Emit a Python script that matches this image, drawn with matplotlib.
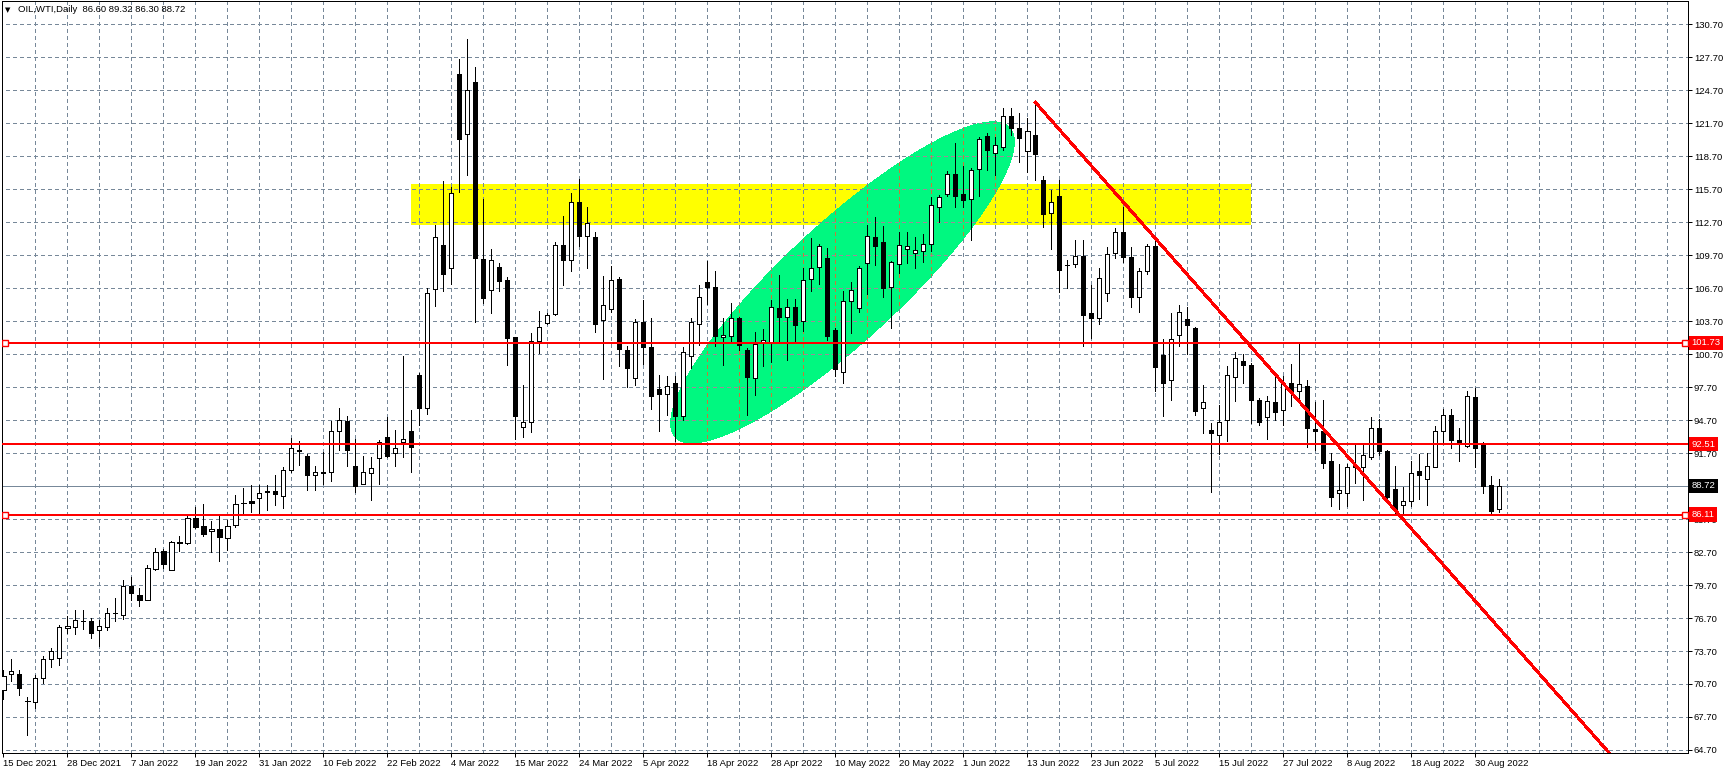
import numpy as np
import matplotlib
matplotlib.use('Agg')
import matplotlib.pyplot as plt
import matplotlib.transforms as mtransforms
from matplotlib.patches import Polygon, Rectangle

plt.rcParams['font.family'] = ['Liberation Sans', 'DejaVu Sans']
plt.rcParams['font.size'] = 6.8

# OIL,WTI daily candles, 15 Dec 2021 .. 2 Sep 2022 (188 bars)
opens = [70.18, 71.64, 71.61, 69.12, 69.06, 71.25, 72.97, 73.06, 75.79, 75.88,
         76.40, 76.46, 75.64, 75.88, 77.12, 76.97, 79.64, 78.82, 78.37, 81.15,
         82.79, 81.09, 83.52, 83.52, 85.82, 85.03, 84.58, 84.79, 83.97, 85.12,
         87.12, 87.33, 87.61, 88.27, 88.27, 87.76, 90.12, 91.95, 91.46, 89.67,
         89.88, 89.94, 93.67, 94.64, 90.55, 88.91, 89.88, 91.25, 93.15, 91.70,
         92.70, 93.70, 98.82, 95.79, 106.61, 110.64, 108.52, 126.15, 120.70, 125.43,
         109.34, 106.52, 108.61, 107.43, 102.25, 94.06, 94.52, 101.91, 103.52, 104.34,
         110.64, 109.25, 114.52, 111.49, 111.37, 103.79, 104.85, 107.55, 101.06, 98.52,
         103.61, 101.31, 97.52, 97.06, 98.06, 95.12, 100.49, 103.43, 107.25, 106.79,
         102.30, 102.31, 103.97, 101.09, 98.52, 101.79, 101.70, 104.88, 104.12, 105.03,
         103.67, 107.52, 108.61, 109.43, 102.91, 99.12, 105.49, 104.88, 109.03, 111.34,
         110.88, 106.85, 108.94, 110.25, 109.88, 110.12, 110.76, 114.06, 115.25, 117.06,
         115.25, 114.79, 117.52, 120.52, 118.97, 119.58, 122.34, 121.25, 119.21, 120.64,
         116.55, 113.52, 115.09, 108.80, 108.88, 109.64, 104.46, 103.97, 106.25, 109.88,
         111.79, 109.52, 105.94, 108.28, 110.55, 100.64, 98.31, 102.43, 103.91, 103.09,
         95.79, 93.82, 93.31, 94.73, 98.61, 100.09, 99.73, 96.55, 94.97, 96.37,
         95.64, 98.06, 97.34, 97.79, 93.88, 93.70, 90.97, 88.03, 88.03, 90.55,
         90.40, 91.37, 93.94, 91.88, 88.40, 87.00, 87.30, 90.06, 89.30, 90.46,
         93.67, 95.21, 92.88, 92.34, 96.76, 92.58, 88.79, 86.60]
highs = [72.00, 72.97, 72.00, 69.49, 71.55, 73.21, 73.97, 76.09, 76.91, 77.40,
         77.40, 76.70, 76.49, 77.61, 78.52, 80.18, 80.43, 79.43, 81.55, 83.06,
         82.97, 83.73, 84.12, 85.94, 86.76, 87.09, 85.52, 86.00, 85.64, 87.85,
         88.52, 88.79, 88.79, 88.82, 89.73, 90.43, 93.06, 92.76, 91.64, 90.55,
         91.76, 94.64, 95.79, 95.09, 92.97, 91.40, 91.34, 92.85, 94.94, 93.82,
         100.50, 95.64, 98.97, 106.70, 112.46, 116.46, 115.94, 127.55, 129.37, 126.79,
         114.82, 110.28, 108.97, 107.76, 102.30, 97.91, 102.61, 104.64, 104.43, 110.94,
         113.28, 115.34, 116.64, 114.09, 111.79, 107.82, 108.73, 107.70, 101.40, 103.88,
         105.58, 103.97, 98.82, 98.73, 98.73, 101.31, 103.97, 107.00, 109.21, 108.28,
         103.97, 105.34, 104.10, 101.25, 102.70, 103.00, 105.64, 107.91, 105.70, 105.70,
         108.52, 111.25, 110.73, 110.34, 103.06, 106.40, 107.25, 108.73, 112.46, 113.15,
         112.37, 109.20, 111.85, 111.85, 111.34, 111.61, 114.97, 115.18, 117.37, 119.88,
         117.82, 117.67, 120.49, 120.79, 120.49, 123.06, 123.06, 122.67, 122.15, 123.61,
         116.91, 115.64, 116.55, 109.28, 111.09, 111.09, 107.00, 108.52, 110.49, 112.15,
         114.12, 110.43, 108.52, 110.73, 111.40, 102.06, 104.43, 105.18, 104.97, 103.21,
         97.91, 94.43, 96.03, 99.58, 100.91, 100.73, 99.88, 96.70, 96.91, 98.82,
         98.67, 99.82, 101.67, 98.34, 96.37, 96.52, 91.73, 90.70, 90.70, 92.43,
         92.43, 94.97, 94.76, 91.97, 90.52, 88.64, 91.00, 91.61, 91.67, 94.15,
         95.70, 95.67, 94.00, 97.37, 97.64, 92.73, 89.61, 89.32]
lows = [69.34, 70.94, 69.70, 66.06, 68.52, 70.79, 72.24, 72.46, 75.34, 75.27,
        75.70, 74.88, 74.18, 75.58, 76.40, 76.64, 78.37, 77.76, 78.30, 81.03,
        81.25, 81.03, 82.82, 83.46, 84.91, 84.12, 82.67, 81.85, 82.85, 84.97,
        86.24, 86.30, 86.18, 86.49, 87.00, 86.67, 89.94, 90.64, 88.37, 88.30,
        88.91, 89.12, 92.00, 90.55, 88.12, 88.85, 87.40, 88.91, 91.34, 90.55,
        91.31, 89.94, 94.27, 95.24, 105.12, 106.40, 107.06, 115.49, 117.00, 103.58,
        105.34, 104.40, 106.40, 99.67, 93.00, 93.20, 93.61, 100.82, 103.43, 104.22,
        107.00, 108.28, 110.58, 108.58, 102.76, 98.46, 104.52, 99.58, 97.67, 97.91,
        99.79, 95.70, 93.67, 95.18, 92.76, 94.73, 99.40, 101.55, 105.28, 101.40,
        99.73, 101.94, 101.09, 95.18, 96.94, 99.64, 100.03, 101.70, 100.18, 101.70,
        102.85, 106.40, 107.09, 102.00, 98.73, 98.12, 102.61, 104.49, 106.19, 108.82,
        105.94, 103.12, 108.06, 109.03, 108.52, 109.12, 110.12, 112.76, 115.09, 114.06,
        114.06, 111.09, 115.09, 117.46, 117.00, 119.28, 120.64, 118.21, 117.31, 116.55,
        112.30, 110.28, 106.31, 106.70, 108.67, 101.40, 102.15, 103.46, 105.49, 109.49,
        109.12, 105.03, 104.49, 107.97, 97.31, 95.03, 96.49, 101.46, 100.73, 95.18,
        93.52, 88.20, 91.61, 92.76, 96.40, 98.06, 94.43, 94.28, 92.97, 94.67,
        94.28, 95.94, 96.52, 92.28, 92.00, 90.31, 86.90, 86.60, 86.90, 88.94,
        87.40, 91.12, 91.52, 87.30, 86.10, 86.20, 86.90, 87.50, 87.00, 90.40,
        92.58, 92.18, 91.00, 92.22, 90.46, 88.09, 86.10, 86.30]
closes = [71.46, 71.88, 70.34, 69.18, 71.25, 72.97, 73.67, 75.88, 75.97, 76.55,
          76.46, 75.34, 76.00, 77.15, 77.20, 79.58, 78.97, 78.31, 81.25, 82.70,
          81.58, 83.61, 83.58, 85.82, 84.97, 84.37, 84.82, 84.03, 85.03, 87.09,
          87.18, 87.15, 88.06, 88.12, 87.97, 90.12, 92.15, 91.88, 89.67, 89.94,
          89.94, 93.70, 94.67, 92.00, 88.73, 89.94, 90.34, 92.73, 91.46, 92.15,
          92.97, 92.21, 95.79, 106.25, 111.34, 107.97, 115.34, 120.25, 124.70, 109.49,
          105.79, 109.25, 107.31, 102.21, 95.03, 94.52, 101.91, 103.15, 104.25, 110.64,
          109.22, 114.52, 111.49, 112.61, 103.43, 105.15, 107.43, 101.15, 99.40, 103.64,
          101.31, 96.85, 97.06, 97.82, 95.03, 100.88, 103.61, 105.88, 106.85, 102.31,
          102.40, 103.97, 101.49, 98.58, 101.61, 101.97, 105.03, 104.12, 104.97, 103.37,
          107.40, 108.52, 110.52, 102.31, 99.34, 105.52, 106.52, 108.52, 111.49, 110.58,
          106.76, 109.12, 110.61, 110.52, 110.15, 110.70, 114.25, 115.03, 117.06, 115.12,
          114.73, 117.46, 120.25, 119.28, 119.70, 122.34, 121.31, 120.40, 120.97, 118.94,
          113.46, 114.55, 108.37, 108.85, 109.64, 104.22, 103.97, 107.61, 109.82, 111.79,
          109.58, 105.88, 108.28, 110.55, 99.49, 98.06, 102.06, 104.52, 103.31, 95.49,
          96.37, 93.52, 94.52, 98.79, 100.34, 99.67, 96.49, 94.52, 96.46, 95.43,
          98.06, 97.31, 98.03, 93.94, 93.67, 90.82, 87.67, 88.30, 90.43, 90.40,
          91.52, 93.94, 91.91, 87.73, 86.60, 87.30, 89.85, 89.73, 90.52, 93.70,
          95.21, 92.88, 92.73, 96.88, 92.12, 88.73, 86.40, 88.72]

# one label every 8 bars
date_labels = ['15 Dec 2021', '28 Dec 2021', '7 Jan 2022', '19 Jan 2022', '31 Jan 2022',
               '10 Feb 2022', '22 Feb 2022', '4 Mar 2022', '15 Mar 2022', '24 Mar 2022',
               '5 Apr 2022', '18 Apr 2022', '28 Apr 2022', '10 May 2022', '20 May 2022',
               '1 Jun 2022', '13 Jun 2022', '23 Jun 2022', '5 Jul 2022', '15 Jul 2022',
               '27 Jul 2022', '8 Aug 2022', '18 Aug 2022', '30 Aug 2022']
label_step = 8
grid_step = 4
price_ticks = np.arange(64.70, 130.71, 3.0)

# drawn objects
levels = [101.73, 92.51, 86.11]
selected_levels = [101.73, 86.11]
zone_bars = (51, 156)
zone_prices = (112.46, 116.18)
ellipse_p1 = (84.0, 93.15)
ellipse_p2 = (125.8, 121.3)
ellipse_ratio = 0.256
trend_p1 = (129, 123.61)
trend_p2 = (155, 102.16)
header = 'OIL,WTI,Daily'

W, H = 1727, 774
fig = plt.figure(figsize=(W / 100, H / 100), dpi=100)
ax = fig.add_axes([2 / W, 21 / H, 1686 / W, 752 / H])
n = len(closes)
x = np.arange(n)
ax.set_xlim(-0.1625, -0.1625 + 1686 / 8)
ax.set_ylim(64.424, 132.82)

px = 0.72  # one pixel in points
grid_col = '#778899'

# yellow zone
ax.add_patch(Rectangle((zone_bars[0], zone_prices[0]), zone_bars[1] - zone_bars[0],
                       zone_prices[1] - zone_prices[0], fc='#FFFF00', ec='none',
                       zorder=1, antialiased=False))

# ellipse (built in pixel space so it stays a true ellipse)
d1 = ax.transData.transform(ellipse_p1)
d2 = ax.transData.transform(ellipse_p2)
c = (d1 + d2) / 2
u = (d2 - d1) / 2
v = np.array([-u[1], u[0]]) * ellipse_ratio
t = np.linspace(0, 2 * np.pi, 300)
pts = c + np.outer(np.cos(t), u) + np.outer(np.sin(t), v)
ell = Polygon(ax.transData.inverted().transform(pts), closed=True, fc='#00F880',
              ec='none', zorder=1.2, antialiased=False)
ax.add_patch(ell)

# grid
vx = np.arange(grid_step, 210, grid_step)
ax.vlines(vx, 64.424, 132.82, colors=grid_col, lw=px, linestyles=(0, (3, 3)),
          zorder=1.5, antialiased=False)
ax.hlines(price_ticks, -1, 212, colors=grid_col, lw=px, linestyles=(0, (3, 3)),
          zorder=1.5, antialiased=False)
# grid shows through the ellipse in other tints
gv = ax.vlines(vx, 64.424, 132.82, colors='#C87838', lw=px, linestyles=(0, (3, 3)),
               zorder=1.55, antialiased=False)
gh = ax.hlines(price_ticks, -1, 212, colors='#A08898', lw=px, linestyles=(0, (3, 3)),
               zorder=1.55, antialiased=False)
gv.set_clip_path(ell)
gh.set_clip_path(ell)

# bid line
ax.axhline(closes[-1], color=grid_col, lw=px, zorder=1.6)

# candles
o = np.array(opens); h = np.array(highs); l = np.array(lows); cl = np.array(closes)
up = cl >= o
ax.vlines(x, l, h, colors='black', lw=px, zorder=2, antialiased=False)
body_lo = np.minimum(o, cl)
body_h = np.maximum(np.abs(cl - o), 0.02)
ax.bar(x[up], body_h[up], bottom=body_lo[up], width=0.55, color='white',
       edgecolor='black', linewidth=px, zorder=3, antialiased=False)
ax.bar(x[~up], body_h[~up], bottom=body_lo[~up], width=0.55, color='black',
       edgecolor='black', linewidth=px, zorder=3, antialiased=False)

# horizontal levels
for lv in levels:
    ax.axhline(lv, color='#FF0000', lw=2 * px, zorder=5, antialiased=False)
for lv in selected_levels:
    ax.plot([0.0015, 0.9985], [lv, lv], ls='none', marker='s', ms=4.2, mfc='white',
            mec='#FF0000', mew=1.4 * px, zorder=6,
            transform=mtransforms.blended_transform_factory(ax.transAxes, ax.transData))

# trend line ray
slope = (trend_p2[1] - trend_p1[1]) / (trend_p2[0] - trend_p1[0])
x_end = 215
ax.plot([trend_p1[0], x_end], [trend_p1[1], trend_p1[1] + slope * (x_end - trend_p1[0])],
        color='#FF0000', lw=2 * px, zorder=5, antialiased=False)

# axes styling
for s in ax.spines.values():
    s.set_color('black')
    s.set_linewidth(px)
ax.yaxis.tick_right()
ax.set_yticks(price_ticks)
ax.set_yticklabels([f'{p:.2f}' for p in price_ticks])
ax.tick_params(axis='y', direction='out', length=3, width=px, pad=1.2, colors='black')
ax.set_xticks(x[::label_step])
ax.set_xticklabels(date_labels, ha='left')
ax.tick_params(axis='x', direction='out', length=3, width=px, pad=1.5, colors='black')

# price tags on the right scale
bt = mtransforms.blended_transform_factory(ax.transAxes, ax.transData)
tag_x = 1 + 3.5 / 1686
for lv in levels:
    ax.text(tag_x, lv, f'{lv:.2f}', transform=bt, color='white', va='center', ha='left',
            clip_on=False, zorder=10,
            bbox=dict(boxstyle='square,pad=0.28', fc='#FF0000', ec='none'))
ax.text(tag_x, closes[-1], f'{closes[-1]:.2f}', transform=bt, color='white', va='center',
        ha='left', clip_on=False, zorder=10,
        bbox=dict(boxstyle='square,pad=0.28', fc='black', ec='none'))

# header
fig.text(5 / W, 1 - 10 / H, '\u25bc', fontsize=5, va='center', ha='left',
         family=['DejaVu Sans'])
fig.text(18 / W, 1 - 10 / H,
         f'{header}  {opens[-1]:.2f} {highs[-1]:.2f} {lows[-1]:.2f} {closes[-1]:.2f}',
         va='center', ha='left', color='black')

fig.savefig('out.png', dpi=100, facecolor='white')
